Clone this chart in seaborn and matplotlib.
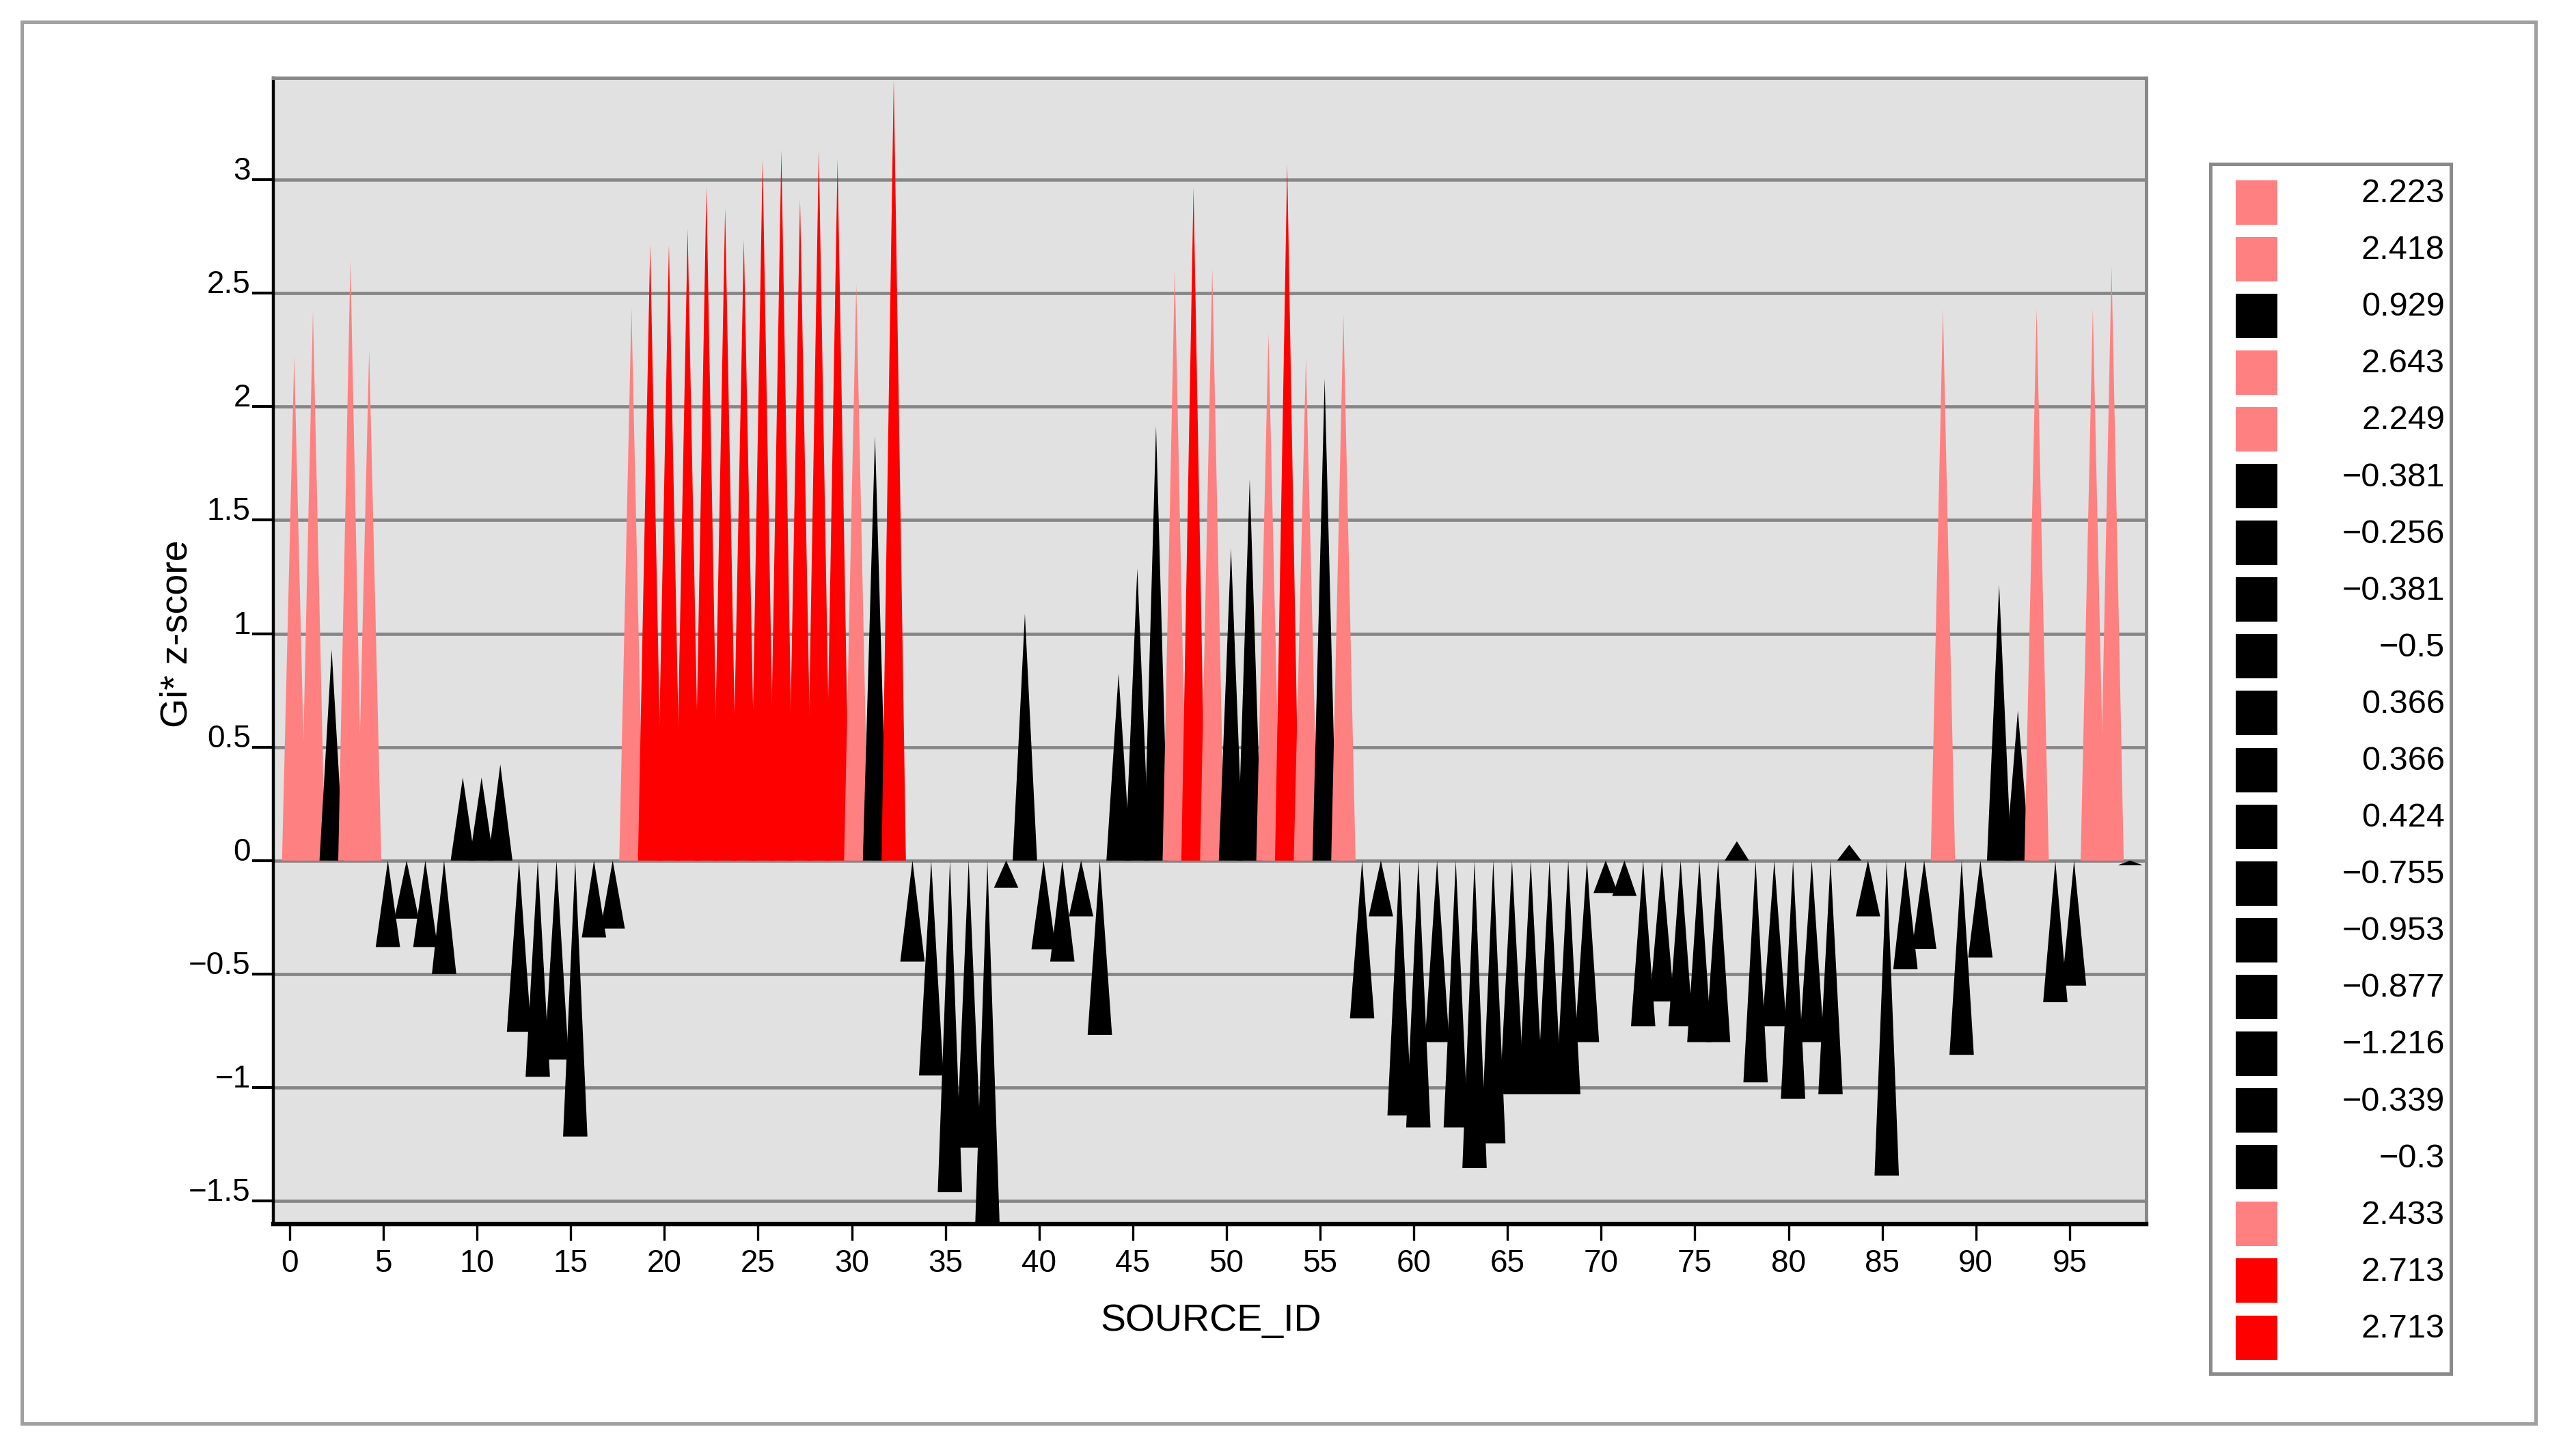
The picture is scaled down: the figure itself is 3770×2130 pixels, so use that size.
import numpy as np
import pandas as pd
import matplotlib
matplotlib.use("Agg")
import matplotlib.pyplot as plt
import seaborn as sns
from matplotlib.patches import Rectangle
from matplotlib.ticker import FuncFormatter

# ---------------- data ----------------
source_id = list(range(99))
gi_z = [
    2.223, 2.418, 0.929, 2.643, 2.249, -0.381, -0.256, -0.381, -0.5, 0.366,
    0.366, 0.424, -0.755, -0.953, -0.877, -1.216, -0.339, -0.3, 2.433, 2.713,
    2.713, 2.784, 2.967, 2.875, 2.736, 3.091, 3.132, 2.911, 3.132, 3.091,
    2.54, 1.872, 3.44, -0.445, -0.947, -1.461, -1.265, -1.60, -0.12, 1.088,
    -0.391, -0.445, -0.246, -0.768, 0.824, 1.287, 1.916, 2.604, 2.967, 2.611,
    1.376, 1.681, 2.323, 3.072, 2.215, 2.124, 2.405, -0.695, -0.246, -1.123,
    -1.176, -0.80, -1.176, -1.355, -1.246, -1.03, -1.03, -1.03, -1.03, -0.80,
    -0.143, -0.156, -0.730, -0.621, -0.730, -0.80, -0.80, 0.085, -0.977, -0.730,
    -1.05, -0.80, -1.03, 0.07, -0.246, -1.388, -0.479, -0.389, 2.431, -0.856,
    -0.427, 1.215, 0.661, 2.431, -0.624, -0.551, 2.431, 2.619, -0.02,
]
legend_count = 21
x_ticks = list(range(0, 100, 5))
y_ticks = [-1.5, -1, -0.5, 0, 0.5, 1, 1.5, 2, 2.5, 3]
x_label = "SOURCE_ID"
y_label = "Gi* z-score"

PINK, RED, BLACK = "#FF8080", "#FF0000", "#000000"
PINK_MIN, RED_MIN = 2.2, 2.68


def bin_color(z):
    if z >= RED_MIN:
        return RED
    if z >= PINK_MIN:
        return PINK
    return BLACK


df = pd.DataFrame({"SOURCE_ID": source_id, "z": gi_z})
df["color"] = df["z"].map(bin_color)

# ---------------- style ----------------
sns.set_theme(style="white")
plt.rcParams["font.family"] = ["Liberation Sans", "DejaVu Sans"]
plt.rcParams["axes.unicode_minus"] = True

W, H = 3770, 2130
DPI = 200
fig = plt.figure(figsize=(W / DPI, H / DPI), dpi=DPI)
fig.patch.set_facecolor("white")


def fx(px):
    return px / W


def fy(py):
    return 1 - py / H


ax = fig.add_axes([fx(400), fy(1792), (3141 - 400) / W, (1792 - 114) / H])
ax.set_facecolor("#E1E1E1")
ax.set_xlim(-0.875, 99.09)
ax.set_ylim(-1.602, 3.449)

HALF_W = 0.65
X_SHIFT = 0.24
for sid, z, c in zip(df["SOURCE_ID"], df["z"], df["color"]):
    x0 = sid + X_SHIFT
    if z >= 0:
        xs = [x0 - HALF_W, x0 + HALF_W, x0]
        ys = [0, 0, z]
    else:
        xs = [x0 - HALF_W, x0 + HALF_W, x0]
        ys = [z, z, 0]
    ax.fill(xs, ys, color=c, lw=0, zorder=3)

ax.set_xticks(x_ticks)
ax.set_yticks(y_ticks)
ax.yaxis.set_major_formatter(FuncFormatter(lambda v, p: f"{v:g}".replace("-", "\u2212")))
ax.xaxis.grid(False)
ax.yaxis.grid(True, color="#868686", lw=1.7, zorder=1)
ax.set_axisbelow(True)

ax.tick_params(axis="x", direction="out", length=8.6, width=1.2, color="black",
               pad=4.5, labelsize=16.5, bottom=True, labelcolor="black")
ax.tick_params(axis="y", direction="out", length=11, width=1.5, color="black",
               pad=1.0, labelsize=16.5, left=True, labelcolor="black")
plt.setp(ax.get_yticklabels(), va="baseline")

ax.spines["left"].set(color="black", lw=1.6)
ax.spines["bottom"].set(color="black", lw=2.3)
ax.spines["top"].set(color="#888888", lw=1.8)
ax.spines["right"].set(color="#888888", lw=1.8)

fig.text(fx(260), fy(928), y_label, rotation=90, ha="center", va="center",
         fontsize=20, color="black")
fig.text(fx(1772), fy(1934), x_label, ha="center", va="center",
         fontsize=20, color="black")

# outer frame
fig.add_artist(Rectangle((fx(32), fy(2084)), (3711 - 32) / W, (2084 - 32) / H,
                         transform=fig.transFigure, fill=False,
                         ec="#A0A0A0", lw=1.8))

# legend panel
lax = fig.add_axes([fx(3235), fy(2011), (3587 - 3235) / W, (2011 - 240) / H])
lax.set_xlim(3235, 3587)
lax.set_ylim(2011, 240)
lax.set_facecolor("white")
lax.set_xticks([])
lax.set_yticks([])
for s in lax.spines.values():
    s.set(color="#8A8A8A", lw=1.8)

for i in range(legend_count):
    yc = 296 + 83.1 * i
    z = gi_z[i]
    lax.add_patch(Rectangle((3272, yc - 32.5), 61, 65, color=bin_color(z), lw=0))
    lax.text(3578, yc, f"{z:g}".replace("-", "\u2212"), ha="right", va="baseline",
             fontsize=17.5, color="black")

fig.savefig("out.png", dpi=DPI, facecolor="white")
